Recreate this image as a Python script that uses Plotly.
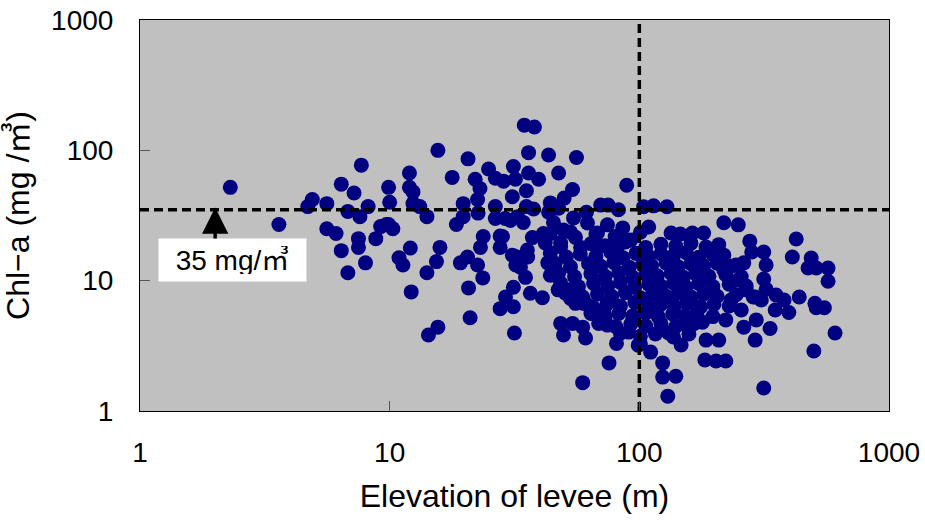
import math
import plotly.graph_objects as go

# ---- data: elevation of levee (m) vs Chl-a (mg/m3) ----
x_left = [2.3, 3.6, 4.7, 4.9, 5.6, 6.4, 7.2, 6.8, 7.7, 8.2, 7.6, 9.9, 10, 9.7, 5.6, 6.1, 7.5, 7.5, 8.8, 9.2,
          9.9, 6.4, 8.0, 6.8, 10.3, 12, 12, 12.4, 12.4, 13.2, 12.1, 10.9, 11.3, 12.2, 14.1, 14.1, 14.3, 15.6]
y_left = [52, 27, 37, 42, 39, 55, 47, 34, 77, 37, 31, 52, 40, 27, 25, 23, 21, 18, 21, 26,
          27, 17, 13.7, 11.5, 25, 67, 52, 48, 39, 37, 17.8, 15, 13.2, 8.2, 11.5, 31, 3.83, 4.4]

x_mid_upper = [34.6, 38, 15.6, 20.6, 36, 43.3, 56, 17.8, 24.9, 26.5,
               28.6, 31.3, 31.9, 36, 39.5, 47.5, 89, 35.3, 31, 54,
               50, 44, 22, 23, 22.5, 19.7, 26.5, 35.3, 37.7, 70,
               75, 82.5, 61.4, 74.5, 85.8, 54.5, 19.7, 22.6, 18.5, 26.5,
               30.4, 34.3, 45.3, 49.7, 41.3, 37.3, 28.3, 23.7, 23.1, 15.9,
               15.4, 19.2, 20.5, 48.4, 58.2, 68, 81.6, 92.4, 43.3, 47.5,
               62, 68, 27.7, 29, 32.5, 53, 104, 114, 129, 109,
               134, 146, 163, 181, 218, 249]
y_mid_upper = [156, 151, 100, 86, 96, 92, 88, 62, 72, 61,
               58, 75, 60, 67, 60, 67, 54, 49, 44, 50,
               43, 39.5, 60, 51, 42, 39, 37, 37, 35.5, 38,
               38, 35, 33.5, 26.8, 25.4, 30.3, 31, 33, 27, 30,
               29, 28, 28, 24.5, 23, 21.4, 21.8, 21.8, 18, 18,
               14, 13.7, 15.2, 19.5, 18, 18.8, 18, 20.5, 33.5, 36,
               27.7, 23.2, 22, 30, 31, 23.6, 36.9, 37.5, 36.9, 25.8,
               23.2, 22.8, 23.2, 23.2, 27.8, 26.8]

x_mid_lower = [22.5, 23.6, 20.7, 27.7, 31, 32, 35.6, 35, 31.3, 29.1,
               36.6, 40.9, 21, 27.7, 31.3, 31.6, 48.4, 49.7, 54, 59.3,
               60.9, 74.5, 81, 75.6, 59.3, 47.3, 54, 61, 72, 90.6,
               99, 44, 43, 33.4, 32.5, 35.7, 51.5, 53, 59.8]
y_mid_lower = [13.2, 10.5, 8.8, 18, 15.7, 13.2, 17.2, 10.6, 8.9, 7.5,
               8, 7.4, 5.2, 6.1, 6.3, 3.97, 4.7, 3.83, 4.7, 4.4,
               3.63, 4.56, 3.3, 2.34, 1.65, 8.5, 7.4, 6.7, 5.95, 4.03,
               3.2, 11, 13.7, 12.7, 15.2, 15.2, 8.5, 7.3, 6.7]

x_core = [44, 55.5, 67, 80, 101,
          42, 48.4, 64, 73, 88, 106, 122, 140, 161, 185, 208,
          44, 51, 58, 67, 77, 86, 97, 109, 122, 137, 154, 173, 197,
          46, 53, 62.6, 70, 79, 91, 103, 112, 128, 143, 161, 181, 205, 233,
          47.5, 55, 64, 73, 82.7, 94, 106, 118, 134, 150, 168, 190, 222, 256,
          48.4, 57, 65.6, 74.7, 84, 95.8, 109, 122, 137, 154, 173, 197, 229, 268,
          50.6, 59.3, 68, 77.5, 88, 101, 113, 128, 143, 161, 181, 205, 244, 286,
          55.5, 65, 74, 84, 96, 109, 122, 138, 155, 176, 199, 229,
          64, 73, 82.7, 94, 106, 119, 136, 152, 170, 197,
          68.7, 80.4, 92.4, 106, 122, 140, 161,
          84, 101, 116, 137, 158]
y_core = [23, 21.5, 22.8, 21.8, 23.5,
          19.5, 18.2, 19.2, 18.5, 19.8, 18, 19, 18.4, 19.4, 18.1, 18.9,
          16.3, 15.2, 16, 15.4, 16.5, 15, 16.2, 15.3, 16.1, 15.5, 16.4, 15.1, 15.9,
          13.6, 12.8, 13.5, 12.9, 13.8, 12.7, 13.4, 13, 13.7, 12.8, 13.5, 13, 13.6, 12.9,
          11.4, 10.7, 11.3, 10.8, 11.5, 10.6, 11.2, 10.9, 11.4, 10.6, 11.3, 10.8, 11.1, 10.7,
          9.6, 9, 9.5, 9.1, 9.7, 8.9, 9.4, 9.1, 9.6, 8.9, 9.5, 9, 9.4, 9.1,
          8, 7.5, 7.9, 7.6, 8.1, 7.4, 7.9, 7.6, 8, 7.5, 7.9, 7.6, 7.8, 7.5,
          6.7, 6.3, 6.6, 6.4, 6.8, 6.3, 6.6, 6.4, 6.7, 6.3, 6.6, 6.4,
          5.6, 5.3, 5.6, 5.35, 5.65, 5.3, 5.55, 5.35, 5.6, 5.3,
          4.7, 4.45, 4.65, 4.5, 4.7, 4.45, 4.6,
          3.95, 3.75, 3.9, 3.7, 3.9]

x_right = [218, 218, 249, 277, 425, 410, 488, 474, 511, 570,
           570, 282, 315, 262, 322, 315, 322, 291, 380, 437,
           397, 505, 511, 551, 350, 334, 291, 262, 608, 500,
           315, 233, 256, 294, 222, 268, 244, 308, 353, 101,
           111, 124, 124, 140, 130, 131, 147, 185, 208, 183,
           203, 222, 179, 157, 166]
y_right = [15.7, 12.1, 10.1, 20.1, 20.9, 15.2, 14.9, 12.5, 12.5, 12.5,
           9.9, 16.6, 16.6, 13.7, 13.2, 10.3, 8.6, 7.5, 7.1, 7.5,
           5.7, 6.7, 6.2, 6.2, 5.95, 4.3, 3.5, 4.4, 3.97, 2.89,
           1.5, 7.1, 5.95, 5, 5, 8.5, 13.2, 7.1, 7.75, 3.27,
           2.83, 2.34, 1.82, 1.85, 1.3, 3.97, 3.21, 3.5, 3.5, 2.46,
           2.42, 2.42, 4.8, 4.4, 4.7]

elevation = x_left + x_mid_upper + x_mid_lower + x_core + x_right
chla = y_left + y_mid_upper + y_mid_lower + y_core + y_right

THRESH_ELEV = 100     # m
THRESH_CHLA = 35      # mg/m3
AXIS_MIN, AXIS_MAX = 1, 1000
tick_vals = [1, 10, 100, 1000]
tick_text = ["1", "10", "100", "1000"]

FONT = "Liberation Sans, Arial, Noto Sans CJK KR, sans-serif"

fig = go.Figure()
fig.add_trace(go.Scatter(
    x=elevation, y=chla, mode="markers",
    marker=dict(color="#000080", size=15, line=dict(width=0)),
    showlegend=False, hoverinfo="x+y"))

# threshold lines (drawn over the markers)
fig.add_trace(go.Scatter(
    x=[THRESH_ELEV, THRESH_ELEV], y=[AXIS_MIN, AXIS_MAX], mode="lines",
    line=dict(color="black", width=3.5, dash="9px,5px"),
    showlegend=False, hoverinfo="skip"))
fig.add_trace(go.Scatter(
    x=[AXIS_MIN, AXIS_MAX], y=[THRESH_CHLA, THRESH_CHLA], mode="lines",
    line=dict(color="black", width=3.5, dash="9px,5px"),
    showlegend=False, hoverinfo="skip"))

axis_common = dict(
    type="log", range=[math.log10(AXIS_MIN), math.log10(AXIS_MAX)],
    tickvals=tick_vals, ticktext=tick_text,
    ticks="inside", ticklen=10, tickwidth=1, tickcolor="#555555",
    showline=True, linecolor="black", linewidth=1, mirror=True,
    showgrid=False, zeroline=False, automargin=False,
    ticklabeloverflow="allow",
    tickfont=dict(family=FONT, size=28, color="black"),
)

fig.update_layout(
    width=925, height=520,
    margin=dict(l=140, r=36, t=20, b=109, autoexpand=False),
    paper_bgcolor="white", plot_bgcolor="#c0c0c0",
    font=dict(family=FONT, color="black"),
    xaxis=dict(axis_common, ticklabelstandoff=16,
               title=dict(text="Elevation of levee (m)", font=dict(size=32), standoff=18)),
    yaxis=dict(axis_common, ticklabelstandoff=20,
               title=dict(text="Chl−a (mg /㎥)", font=dict(size=32), standoff=16)),
    annotations=[
        dict(x=math.log10(2.35), y=math.log10(14.4), xref="x", yref="y",
             text="35 mg/㎥", showarrow=False, bgcolor="white",
             font=dict(family=FONT, size=28, color="black"),
             width=133, height=28, borderpad=7),
        dict(x=math.log10(2.0), y=math.log10(36.5), xref="x", yref="y",
             ax=math.log10(2.0), ay=math.log10(20.5), axref="x", ayref="y",
             text="", showarrow=True, arrowhead=2, arrowsize=1.5,
             arrowwidth=3.5, arrowcolor="black"),
    ],
)

fig.write_html(
    "out.html",
    config={"displayModeBar": False},
    post_script="document.body.style.margin='0';document.body.style.overflow='hidden';",
)
